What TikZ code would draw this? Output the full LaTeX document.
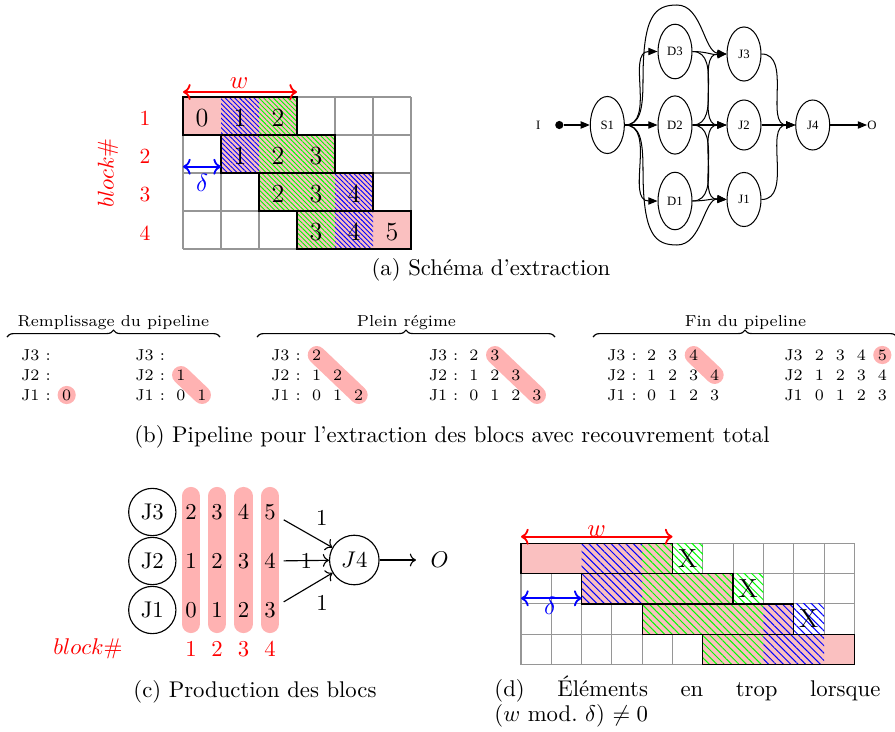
\documentclass[tikz,border=0pt]{standalone}
\usepackage{fontspec}
\newfontfamily\gvfont{Liberation Serif}
\usetikzlibrary{patterns.meta,decorations.pathreplacing,arrows.meta,shapes.geometric,backgrounds}
\definecolor{cellpink}{RGB}{250,192,192}
\definecolor{hlpink}{RGB}{255,178,178}
\definecolor{gridgray}{RGB}{150,150,150}
\tikzset{
  gridline/.style={draw=gridgray,line width=0.45pt},
  cellfill/.style={fill=cellpink},
  blkbox/.style={draw=black,line width=0.6pt},
  hbA/.style={pattern={Lines[angle=-45,distance=1.5pt,line width=0.4pt]},pattern color=blue},
  hgA/.style={pattern={Lines[angle=-45,distance=1.5pt,line width=0.4pt]},pattern color=green},
  hbD/.style={pattern={Lines[angle=-45,distance=2.3pt,line width=0.45pt]},pattern color=blue},
  hgD/.style={pattern={Lines[angle=-45,distance=2.3pt,line width=0.45pt]},pattern color=green},
  celldigit/.style={font=\fontsize{11.5}{13}\selectfont,inner sep=0pt},
  redlab/.style={text=red,font=\fontsize{9.5}{11}\selectfont,inner sep=0pt},
  gvnode/.style={ellipse,draw,line width=0.45pt,minimum width=14.96pt,minimum height=25pt,inner sep=0pt,font=\gvfont\fontsize{5.6}{6.5}\selectfont},
  gvedge/.style={line width=0.45pt,-{Triangle[length=4pt,width=3.2pt]}},
  ptxt/.style={font=\fontsize{7}{8.5}\selectfont,inner sep=0pt},
  hl/.style={draw=hlpink,line width=7.9pt,line cap=round},
  pill/.style={draw=hlpink,line width=8pt,line cap=round},
  jcirc/.style={circle,draw,line width=0.5pt,minimum size=20.8pt,inner sep=0pt,font=\fontsize{10}{12}\selectfont},
  cdig/.style={font=\fontsize{10}{12}\selectfont},
  carr/.style={line width=0.5pt,->},
  capt/.style={font=\fontsize{10}{12}\selectfont,inner sep=0pt},
  brc/.style={decorate,decoration={brace,amplitude=3pt},line width=0.5pt},
  dimarr/.style={line width=0.8pt,<->},
  dimlab/.style={font=\fontsize{11}{13}\selectfont,inner sep=0pt},
}
\newcommand\prow[6]{%
  \node[ptxt,anchor=west] (#1l) at (#2,#3) {#4};
  \foreach \d [count=\k] in {#6}{\node[ptxt] (#1\k) at ({#5+21*(\k-1)},#3) {\d};}}
\begin{document}
\begin{tikzpicture}[x=0.44pt,y=-0.44pt]
\useasboundingbox (0,0) rectangle (895,731);

% ================= (a) left grid =================
\foreach \i in {0,...,6} \draw[gridline] (183+38*\i,97) -- (183+38*\i,249);
\foreach \j in {0,...,4} \draw[gridline] (183,97+38*\j) -- (411,97+38*\j);
\fill[cellfill] (183,97) rectangle (297,135);
\fill[cellfill] (221,135) rectangle (335,173);
\fill[cellfill] (259,173) rectangle (373,211);
\fill[cellfill] (297,211) rectangle (411,249);
\fill[hbA] (221,97) rectangle (259,135);
\fill[hgA] (259,97) rectangle (297,135);
\fill[hbA] (221,135) rectangle (259,173);
\fill[hgA] (259,135) rectangle (335,173);
\fill[hgA] (259,173) rectangle (335,211);
\fill[hbA] (335,173) rectangle (373,211);
\fill[hgA] (297,211) rectangle (335,249);
\fill[hbA] (335,211) rectangle (373,249);
\draw[blkbox] (183,97) rectangle (297,135);
\draw[blkbox] (221,135) rectangle (335,173);
\draw[blkbox] (259,173) rectangle (373,211);
\draw[blkbox] (297,211) rectangle (411,249);
\foreach \r/\c/\v in {0/0/0,0/1/1,0/2/2,1/1/1,1/2/2,1/3/3,2/2/2,2/3/3,2/4/4,3/3/3,3/4/4,3/5/5}
  \node[celldigit] (ag\r\c) at (202+38*\c,118+38*\r) {\v};
\foreach \r/\t in {0/1,1/2,2/3,3/4}
  \node[redlab] (arow\r) at (145,118+38.3*\r) {\t};
\node[redlab,font=\fontsize{10}{12}\selectfont,rotate=90] (ablk) at (108,173) {$block\#$};
\coordinate (aw1) at (183,92); \coordinate (aw2) at (297,92);
\draw[dimarr,red] (aw1) -- (aw2);
\node[dimlab,text=red] (awl) at (239,83) {$w$};
\coordinate (ad1) at (183,166.7); \coordinate (ad2) at (221,166.7);
\draw[dimarr,blue] (ad1) -- (ad2);
\node[dimlab,text=blue] (adl) at (202,183) {$\delta$};

% ================= (a) graph =================
\node[gvnode,minimum height=25.1pt] (S1) at (607.3,125) {S1};
\node[gvnode,minimum height=24pt] (D3) at (675,51.5) {D3};
\node[gvnode,minimum height=25.6pt] (D2) at (675,125) {D2};
\node[gvnode,minimum height=25.3pt] (D1) at (675,201) {D1};
\node[gvnode,minimum height=23.8pt] (J3) at (744,54) {J3};
\node[gvnode,minimum height=22pt] (J2) at (744,125) {J2};
\node[gvnode,minimum height=23.8pt] (J1) at (744,199.5) {J1};
\node[gvnode,minimum height=22pt] (J4) at (812.7,125) {J4};
\node[circle,fill,inner sep=0pt,minimum size=3.6pt] (dot) at (559.3,125) {};
\node[inner sep=0pt,font=\gvfont\fontsize{5.6}{6.5}\selectfont] (Ilab) at (538.3,125) {I};
\node[inner sep=0pt,anchor=west,font=\gvfont\fontsize{5.6}{6.5}\selectfont] (Olab) at (867,125) {O};
\draw[gvedge] (dot) -- (S1);
\draw[gvedge] (S1) -- (D2);
\draw[gvedge] (S1.east) to[out=0,in=180] (D3.west);
\draw[gvedge] (S1.east) to[out=0,in=180] (D1.west);
\draw[gvedge] (S1.east) .. controls (640,125) and (643,110) .. (643,80)
   .. controls (643,15) and (655,5) .. (677,5)
   .. controls (702,5) and (704,52) .. (J3.west);
\draw[gvedge] (S1.east) .. controls (640,125) and (643,140) .. (643,170)
   .. controls (643,235) and (655,245) .. (677,245)
   .. controls (702,245) and (704,198) .. (J1.west);
\draw[gvedge] (D3.east) to[out=0,in=185] (J3.west);
\draw[gvedge] (D3.east) to[out=0,in=180] (J2.west);
\draw[gvedge] (D2.east) to[out=0,in=180] (J3.west);
\draw[gvedge] (D2) -- (J2);
\draw[gvedge] (D2.east) to[out=0,in=180] (J1.west);
\draw[gvedge] (D1.east) to[out=0,in=175] (J1.west);
\draw[gvedge] (D1.east) to[out=0,in=180] (J2.west);
\draw[gvedge] (J3.east) to[out=0,in=180] (J4.west);
\draw[gvedge] (J2) -- (J4);
\draw[gvedge] (J1.east) to[out=0,in=180] (J4.west);
\draw[gvedge] (J4) -- (Olab);

\node[capt] (capa) at (491,270) {(a) Schéma d’extraction};

% ================= (b) pipeline =================
\coordinate (bR1) at (7,337); \coordinate (bR2) at (220,337);
\coordinate (bP1) at (257,337); \coordinate (bP2) at (555,337);
\coordinate (bF1) at (593,337); \coordinate (bF2) at (897,337);
\draw[brc] (bR1) -- (bR2);
\draw[brc] (bP1) -- (bP2);
\draw[brc] (bF1) -- (bF2);
\node[ptxt] (tR) at (113.5,323) {Remplissage du pipeline};
\node[ptxt] (tP) at (406.5,323) {Plein régime};
\node[ptxt] (tF) at (745.5,323) {Fin du pipeline};

% panel R1
\node[ptxt,anchor=west] (r1j3l) at (20.7,355) {J3 :};
\node[ptxt,anchor=west] (r1j2l) at (20.7,375) {J2 :};
\prow{r1j1}{20.7}{395}{J1 :}{66.7}{0}
% panel R2
\node[ptxt,anchor=west] (r2j3l) at (135,355) {J3 :};
\prow{r2j2}{135}{375}{J2 :}{181}{1}
\prow{r2j1}{135}{395}{J1 :}{181}{0,1}
% panel P1
\prow{p1j3}{270.7}{355}{J3 :}{316.7}{2}
\prow{p1j2}{270.7}{375}{J2 :}{316.7}{1,2}
\prow{p1j1}{270.7}{395}{J1 :}{316.7}{0,1,2}
% panel P2
\prow{p2j3}{428.3}{355}{J3 :}{474}{2,3}
\prow{p2j2}{428.3}{375}{J2 :}{474}{1,2,3}
\prow{p2j1}{428.3}{395}{J1 :}{474}{0,1,2,3}
% panel F1
\prow{f1j3}{606.7}{355}{J3 :}{651.7}{2,3,4}
\prow{f1j2}{606.7}{375}{J2 :}{651.7}{1,2,3,4}
\prow{f1j1}{606.7}{395}{J1 :}{651.7}{0,1,2,3}
% panel F2
\prow{f2j3}{784}{355}{J3}{819.3}{2,3,4,5}
\prow{f2j2}{784}{375}{J2}{819.3}{1,2,3,4}
\prow{f2j1}{784}{395}{J1}{819.3}{0,1,2,3}
\begin{scope}[on background layer]
  \fill[hlpink] (r1j11) circle[radius=4pt];
  \draw[hl] (r2j21.center) -- (r2j12.center);
  \draw[hl] (p1j31.center) -- (p1j13.center);
  \draw[hl] (p2j32.center) -- (p2j14.center);
  \draw[hl] (f1j33.center) -- (f1j24.center);
  \fill[hlpink] (f2j34) circle[radius=4pt];
\end{scope}

\node[capt] (capb) at (452,437) {(b) Pipeline pour l’extraction des blocs avec recouvrement total};

% ================= (c) production =================
\foreach \x in {191,217,243.5,270} \draw[pill] (\x,496) -- (\x,624);
\foreach \n/\y in {3/512,2/561,1/610} \node[jcirc] (cJ\n) at (152.3,\y) {J\n};
\foreach \k/\x/\a/\b/\c in {1/191/2/1/0,2/217/3/2/1,3/243.5/4/3/2,4/270/5/4/3}{
  \node[cdig] (ct\k) at (\x,512) {\a};
  \node[cdig] (cm\k) at (\x,561) {\b};
  \node[cdig] (cb\k) at (\x,610) {\c};
  \node[redlab,font=\fontsize{10}{12}\selectfont] (cn\k) at (\x,649) {\k};
}
\node[redlab,font=\fontsize{10}{12}\selectfont] (cblk) at (88,649) {$block\#$};
\node[jcirc,minimum size=21.8pt] (cJ4) at (354.3,560) {$J4$};
\node[inner sep=6.2pt,font=\fontsize{10}{12}\selectfont] (cO) at (439.5,560) {$O$};
\draw[carr] (ct4) -- (cJ4) node[midway,above right,font=\fontsize{10}{12}\selectfont] {1};
\draw[carr] (cm4) -- (cJ4) node[midway,font=\fontsize{10}{12}\selectfont] {1};
\draw[carr] (cb4) -- (cJ4) node[midway,below right,font=\fontsize{10}{12}\selectfont] {1};
\draw[carr] (cJ4) -- (cO);
\node[capt] (capc) at (255,692) {(c) Production des blocs};

% ================= (d) grid =================
\foreach \i in {0,...,11} \draw[gridline] (521+30.3*\i,543.3) -- (521+30.3*\i,664.5);
\foreach \j in {0,...,4} \draw[gridline] (521,543.3+30.3*\j) -- (854.3,543.3+30.3*\j);
\fill[cellfill] (521,543.3) rectangle (672.5,573.6);
\fill[cellfill] (581.6,573.6) rectangle (733.1,603.9);
\fill[cellfill] (642.2,603.9) rectangle (793.7,634.2);
\fill[cellfill] (702.8,634.2) rectangle (854.3,664.5);
\fill[hbD] (581.6,543.3) rectangle (642.2,573.6);
\fill[hgD] (642.2,543.3) rectangle (672.5,573.6);
\fill[hgD] (672.5,543.3) rectangle (702.8,573.6);
\fill[hbD] (581.6,573.6) rectangle (642.2,603.9);
\fill[hgD] (642.2,573.6) rectangle (733.1,603.9);
\fill[hgD] (733.1,573.6) rectangle (763.4,603.9);
\fill[hgD] (642.2,603.9) rectangle (763.4,634.2);
\fill[hbD] (763.4,603.9) rectangle (793.7,634.2);
\fill[hbD] (793.7,603.9) rectangle (824,634.2);
\fill[hgD] (702.8,634.2) rectangle (763.4,664.5);
\fill[hbD] (763.4,634.2) rectangle (824,664.5);
\draw[blkbox] (521,543.3) rectangle (672.5,573.6);
\draw[blkbox] (581.6,573.6) rectangle (733.1,603.9);
\draw[blkbox] (642.2,603.9) rectangle (793.7,634.2);
\draw[blkbox] (702.8,634.2) rectangle (854.3,664.5);
\node[celldigit] (dx1) at (687.6,558.5) {X};
\node[celldigit] (dx2) at (748.2,588.8) {X};
\node[celldigit] (dx3) at (808.8,619) {X};
\coordinate (dw1) at (521,536.7); \coordinate (dw2) at (672.5,536.7);
\draw[dimarr,red] (dw1) -- (dw2);
\node[dimlab,text=red] (dwl) at (596.7,531) {$w$};
\coordinate (dd1) at (521,598.3); \coordinate (dd2) at (581.6,598.3);
\draw[dimarr,blue] (dd1) -- (dd2);
\node[dimlab,text=blue] (ddl) at (550,606) {$\delta$};
\node[capt,anchor=west] (capd1) at (494,689) {\hbox to 169.8pt{(d)\hfill Éléments\hfill en\hfill trop\hfill lorsque}};
\node[capt,anchor=west] (capd2) at (494,716) {($w$ mod.~$\delta$) $\neq 0$};
\end{tikzpicture}
\end{document}
